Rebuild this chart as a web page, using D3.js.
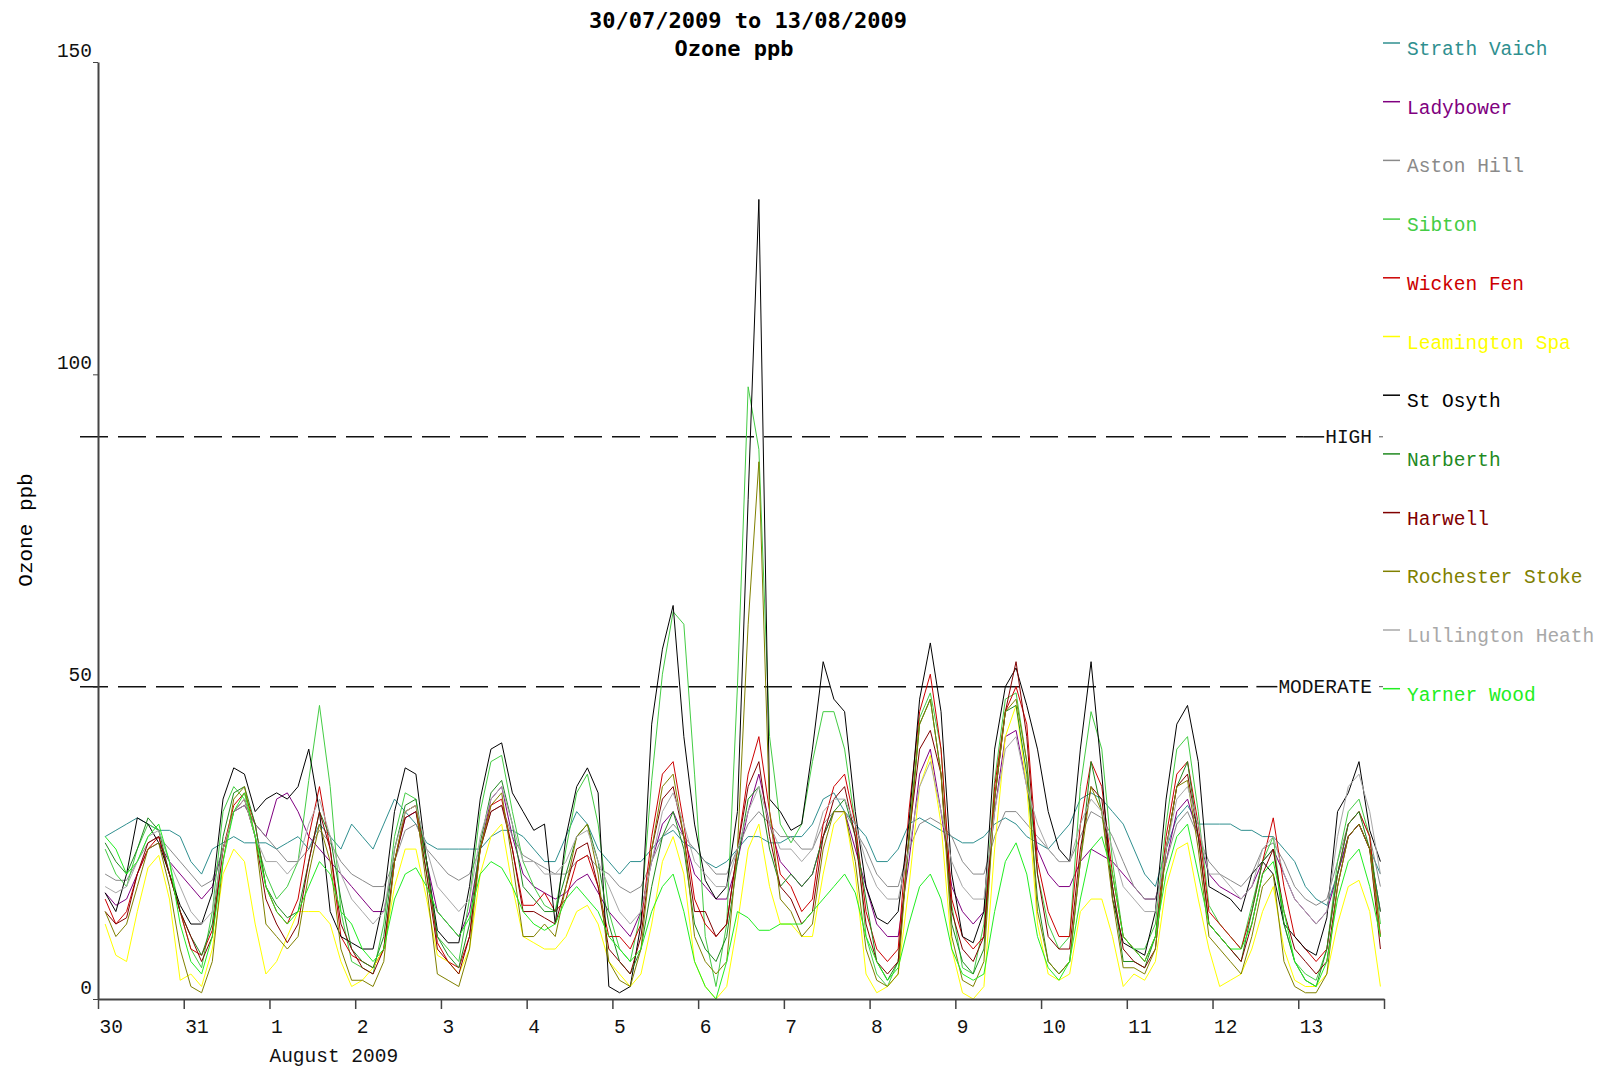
<!DOCTYPE html>
<html lang="en">
<head>
  <meta charset="UTF-8">
  <title>Ozone ppb</title>
  <script src="https://d3js.org/d3.v7.min.js"></script>
  <style>
    body { margin: 0; background: #fff; }
    svg text { font-family: "Liberation Mono", "DejaVu Sans Mono", monospace; }
    .title { font-family: "DejaVu Sans Mono", monospace !important; font-weight: bold; }
    .axis path, .axis line { stroke: #444; }
  </style>
</head>
<body>
  <div id="chart"></div>

  <script>
    // Text and ticks
    const titleLines = ["30/07/2009 to 13/08/2009", "Ozone ppb"];
    const yLabel = "Ozone ppb";
    const dayLabels = ["30", "31", "1", "2", "3", "4", "5", "6", "7", "8", "9", "10", "11", "12", "13"];
    const monthLabel = "August 2009";
    const yTicks = [0, 50, 100, 150];
    const bandNames = ["HIGH", "MODERATE"];
    const bandValues = [90, 50];

    // readings every 3 hours from 30/07 02:00 (hours since 30/07 00:00)
    const sampleHours = d3.range(2, 360, 3);

    // one row per day: 02 05 08 11 14 17 20 23 h
    const strathVaich = [
      26, 27, 28, 29, 28, 27, 27, 26,
      22, 20, 24, 25, 26, 25, 25, 25,
      24, 25, 26, 24, 28, 26, 24, 28,
      26, 24, 28, 32, 30, 28, 25, 24,
      24, 24, 24, 24, 26, 27, 27, 26,
      24, 22, 22, 26, 30, 28, 24, 22,
      20, 22, 22, 24, 26, 27, 25, 24,
      22, 21, 22, 24, 26, 26, 25, 25,
      26, 26, 28, 32, 33, 30, 28, 26,
      22, 22, 24, 28, 29, 28, 27, 26,
      25, 25, 26, 28, 29, 28, 26, 25,
      24, 26, 28, 32, 33, 32, 30, 28,
      24, 20, 18, 24, 29, 31, 28, 28,
      28, 28, 27, 27, 26, 26, 24, 22,
      18, 16, 15, 20, 26, 28, 24, 20
    ];
    const ladybower = [
      17, 15, 16, 20, 24, 25, 22, 20,
      18, 16, 18, 24, 30, 31, 28, 26,
      32, 33, 30, 26, 24, 22, 20, 18,
      16, 14, 14, 22, 29, 30, 22, 14,
      12, 10, 14, 24, 32, 34, 26, 20,
      18, 17, 16, 17, 19, 20, 17, 14,
      12, 10, 14, 22, 28, 30, 26, 20,
      18, 16, 16, 22, 30, 36, 28, 22,
      20, 18, 20, 26, 30, 30, 24, 18,
      12, 10, 10, 22, 36, 40, 30, 18,
      14, 12, 14, 30, 42, 43, 34, 24,
      20, 18, 18, 22, 24, 23, 22, 20,
      18, 16, 16, 22, 30, 32, 26, 20,
      18, 17, 16, 18, 22, 24, 20, 16,
      14, 12, 14, 20, 26, 28, 24, 14
    ];
    const astonHill = [
      20, 19, 19, 22, 25, 26, 24, 22,
      20, 18, 19, 24, 30, 31, 28, 26,
      24, 22, 22, 24, 27, 25, 22, 20,
      19, 18, 18, 22, 27, 28, 24, 22,
      20, 19, 20, 24, 30, 31, 26, 23,
      22, 21, 20, 20, 22, 23, 21, 20,
      18, 17, 18, 22, 26, 28, 26, 24,
      22, 20, 20, 24, 28, 30, 28, 26,
      26, 24, 24, 28, 30, 30, 27, 24,
      20, 18, 18, 24, 28, 29, 28, 26,
      22, 20, 20, 26, 30, 30, 28, 26,
      24, 22, 22, 26, 30, 29, 26, 22,
      18, 16, 16, 22, 28, 30, 26, 22,
      20, 19, 18, 20, 24, 25, 22, 18,
      16, 15, 16, 22, 28, 30, 26, 18
    ];
    const sibton = [
      24, 20, 18, 24, 28, 27, 22, 14,
      8, 5, 14, 30, 34, 32, 26, 20,
      16, 18, 22, 35, 47, 34, 14, 6,
      5, 4, 12, 26, 33, 32, 20, 10,
      8, 6, 16, 30, 38, 39, 30, 22,
      18, 15, 14, 24, 33, 36, 28, 14,
      8, 6, 14, 35, 52, 62, 60, 36,
      10, 2, 12, 50, 98, 88, 42, 28,
      25, 28, 38, 46, 46, 40, 28, 10,
      4, 2, 6, 26, 45, 49, 40, 15,
      5, 4, 12, 35, 48, 49, 38, 20,
      12, 8, 10, 34, 46, 40, 22, 10,
      8, 8, 12, 28, 40, 42, 30, 15,
      12, 10, 8, 15, 22, 26, 12, 6,
      4, 3, 8, 22, 30, 32, 26, 12
    ];
    const wickenFen = [
      16, 12, 14, 20, 24, 26, 20, 14,
      8, 7, 11, 24, 31, 33, 28, 18,
      14, 12, 16, 26, 34, 24, 10, 7,
      6, 5, 8, 22, 30, 31, 22, 9,
      6, 5, 10, 24, 31, 32, 24, 15,
      15, 17, 14, 16, 22, 23, 18, 10,
      10, 8, 12, 26, 36, 38, 28, 16,
      12, 10, 12, 24, 36, 42, 30, 20,
      18, 14, 16, 28, 34, 36, 28, 14,
      8, 6, 8, 30, 46, 52, 40, 16,
      10, 8, 10, 34, 46, 50, 44, 22,
      14, 10, 10, 28, 38, 34, 20, 10,
      8, 6, 10, 26, 36, 38, 28, 14,
      12, 10, 8, 14, 22, 29, 18, 10,
      8, 6, 8, 20, 28, 30, 26, 10
    ];
    const leamingtonSpa = [
      12, 7, 6, 14, 21, 23, 16, 3,
      4, 2, 8, 20, 24, 22, 12, 4,
      6, 10, 14, 14, 14, 12, 6, 2,
      3, 5, 8, 18, 24, 24, 16, 7,
      6, 4, 8, 20, 26, 28, 18, 10,
      9, 8, 8, 10, 14, 15, 12, 6,
      4, 2, 4, 12, 22, 26, 20, 6,
      2, 0, 2, 12, 24, 28, 18, 12,
      12, 10, 10, 20, 28, 30, 20, 4,
      1, 2, 4, 18, 34, 39, 28, 8,
      1, 0, 2, 24, 42, 47, 34, 12,
      4, 3, 4, 14, 16, 16, 10, 2,
      4, 3, 6, 18, 24, 25, 16, 8,
      2, 3, 4, 8, 14, 18, 8, 3,
      2, 2, 4, 12, 18, 19, 14, 2
    ];
    const stOsyth = [
      17, 14, 20, 29, 28, 25, 20, 15,
      12, 12, 17, 32, 37, 36, 30, 32,
      33, 32, 34, 40, 30, 14, 10, 9,
      8, 8, 16, 30, 37, 36, 22, 11,
      9, 9, 18, 32, 40, 41, 33, 30,
      27, 28, 12, 26, 34, 37, 33, 2,
      1, 2, 12, 44, 56, 63, 42, 28,
      19, 16, 18, 30, 80, 128, 32, 30,
      27, 28, 40, 54, 48, 46, 30, 18,
      13, 12, 14, 28, 48, 57, 46, 20,
      10, 9, 14, 40, 50, 53, 47, 40,
      30, 24, 22, 40, 54, 36, 16, 9,
      8, 7, 14, 32, 44, 47, 38, 18,
      17, 16, 14, 20, 22, 20, 12, 10,
      8, 7, 13, 30, 33, 38, 27, 22
    ];
    const narberth = [
      25, 22, 20, 24, 29, 27, 20, 14,
      10, 7, 12, 26, 33, 34, 28, 18,
      15, 13, 14, 22, 30, 26, 16, 8,
      6, 5, 10, 24, 31, 32, 22, 10,
      7, 5, 12, 25, 33, 35, 28, 18,
      16, 14, 14, 20, 26, 28, 22, 12,
      6, 4, 8, 18, 26, 30, 24, 12,
      8, 6, 10, 22, 32, 34, 24, 18,
      20, 18, 20, 26, 30, 32, 26, 16,
      6, 3, 6, 25, 44, 48, 36, 12,
      6, 4, 8, 32, 46, 47, 36, 16,
      6, 4, 6, 22, 38, 30, 18, 6,
      6, 5, 10, 24, 34, 38, 26, 12,
      10, 8, 6, 14, 22, 24, 12, 6,
      3, 2, 8, 20, 28, 30, 24, 14
    ];
    const harwell = [
      14, 12, 13, 20, 25, 26, 20, 14,
      10, 6, 10, 24, 30, 32, 26, 16,
      12, 9, 12, 22, 30, 24, 12, 8,
      5, 4, 8, 22, 29, 30, 20, 8,
      6, 4, 10, 24, 30, 31, 24, 14,
      14, 13, 12, 18, 24, 25, 18, 8,
      6, 4, 10, 24, 32, 34, 26, 14,
      14, 10, 12, 24, 34, 38, 26, 18,
      16, 12, 14, 26, 32, 34, 26, 12,
      6, 4, 6, 26, 40, 43, 36, 14,
      8, 6, 10, 32, 46, 54, 42, 20,
      10, 8, 8, 24, 34, 32, 18, 8,
      6, 5, 8, 24, 34, 36, 26, 12,
      10, 8, 6, 12, 20, 24, 14, 8,
      6, 4, 6, 18, 26, 28, 24, 8
    ];
    const rochesterStoke = [
      14, 10, 12, 18, 24, 25, 18, 8,
      2, 1, 6, 22, 32, 34, 26, 12,
      10, 8, 10, 20, 28, 22, 8, 3,
      3, 2, 6, 22, 30, 31, 18, 4,
      3, 2, 8, 24, 31, 33, 22, 10,
      10, 12, 10, 18, 26, 28, 20, 6,
      3, 2, 8, 24, 34, 36, 26, 10,
      6, 4, 6, 24, 60, 86, 30, 16,
      14, 10, 12, 24, 30, 30, 22, 8,
      3, 2, 4, 26, 44, 48, 36, 10,
      3, 2, 6, 32, 46, 48, 38, 14,
      6, 4, 6, 22, 34, 30, 16, 5,
      5, 4, 8, 24, 34, 35, 24, 10,
      8, 6, 4, 10, 18, 20, 6, 2,
      1, 1, 4, 18, 26, 28, 24, 10
    ];
    const lullingtonHeath = [
      18, 17, 18, 22, 26, 27, 22, 18,
      14, 12, 14, 24, 30, 32, 26, 22,
      22, 20, 22, 28, 32, 26, 20, 16,
      14, 12, 14, 24, 30, 31, 24, 18,
      16, 14, 16, 26, 32, 34, 28, 22,
      22, 20, 20, 22, 26, 27, 22, 18,
      14, 12, 14, 22, 30, 33, 28, 22,
      20, 18, 18, 24, 30, 34, 28, 24,
      24, 22, 24, 30, 32, 32, 28, 22,
      18, 16, 16, 24, 34, 38, 30, 22,
      18, 16, 16, 30, 40, 42, 34, 28,
      24, 22, 22, 28, 32, 30, 24, 18,
      16, 14, 14, 24, 32, 34, 28, 20,
      20, 18, 16, 18, 24, 26, 20, 16,
      14, 12, 14, 26, 34, 36, 30, 20
    ];
    const yarnerWood = [
      26, 24, 20, 22, 26, 28, 22, 12,
      6, 4, 10, 22, 30, 33, 26, 18,
      14, 12, 14, 18, 22, 20, 14, 12,
      8, 6, 8, 16, 20, 21, 18, 14,
      12, 10, 13, 20, 22, 21, 18, 14,
      12, 11, 12, 16, 18, 16, 14, 10,
      8, 6, 8, 14, 18, 20, 14, 6,
      2, 0, 6, 14, 13, 11, 11, 12,
      12, 12, 14, 16, 18, 20, 17, 10,
      6, 3, 5, 12, 18, 20, 16, 8,
      4, 3, 4, 14, 22, 25, 20, 10,
      5, 3, 6, 16, 24, 26, 20, 10,
      8, 6, 10, 20, 26, 28, 20, 12,
      10, 8, 8, 12, 20, 22, 14, 6,
      3, 2, 6, 16, 22, 24, 18, 10
    ];

    const stationNames = ["Strath Vaich", "Ladybower", "Aston Hill", "Sibton", "Wicken Fen",
      "Leamington Spa", "St Osyth", "Narberth", "Harwell", "Rochester Stoke",
      "Lullington Heath", "Yarner Wood"];
    const stationValues = [strathVaich, ladybower, astonHill, sibton, wickenFen,
      leamingtonSpa, stOsyth, narberth, harwell, rochesterStoke,
      lullingtonHeath, yarnerWood];
    const stationColors = ["#2f8f8f", "#800080", "#8a8a8a", "#44cc44", "#cc0000",
      "#ffff00", "#000000", "#1f8a1f", "#800000", "#808000",
      "#a8a8a8", "#22ee22"];

    const width = 1605;
    const height = 1067;

    const svg = d3.select("#chart").append("svg")
      .attr("width", width)
      .attr("height", height)
      .style("background", "#fff");

    const x = d3.scaleLinear().domain([0, 360]).range([98, 1384]);
    const y = d3.scaleLinear().domain([0, 150]).range([999, 62]);

    // titles
    svg.append("text")
      .attr("class", "title")
      .attr("x", 748).attr("y", 28)
      .attr("text-anchor", "middle")
      .style("font-size", "22px")
      .text(titleLines[0]);
    svg.append("text")
      .attr("class", "title")
      .attr("x", 734).attr("y", 56)
      .attr("text-anchor", "middle")
      .style("font-size", "22px")
      .text(titleLines[1]);

    svg.append("text")
      .attr("transform", "translate(32,530) rotate(-90)")
      .attr("text-anchor", "middle")
      .style("font-size", "21px")
      .text(yLabel);

    // band lines (HIGH / MODERATE)
    bandValues.forEach((v, i) => {
      const g = svg.append("g");
      const label = g.append("text")
        .attr("x", 1372)
        .attr("y", y(v) + 6)
        .attr("text-anchor", "end")
        .style("font-size", "19.5px")
        .attr("fill", "#111")
        .text(bandNames[i]);
      const start = 1372 - label.node().getComputedTextLength();
      g.append("line")
        .attr("x1", 80).attr("x2", start - 22)
        .attr("y1", y(v)).attr("y2", y(v))
        .attr("stroke", "#111")
        .attr("stroke-width", 1.5)
        .attr("stroke-dasharray", "28,10");
      g.append("line")
        .attr("x1", start - 22).attr("x2", start - 1)
        .attr("y1", y(v)).attr("y2", y(v))
        .attr("stroke", "#111")
        .attr("stroke-width", 1.5);
      g.append("line")
        .attr("x1", 1379).attr("x2", 1383)
        .attr("y1", y(v)).attr("y2", y(v))
        .attr("stroke", "#555");
    });

    // series
    const line = d3.line()
      .x((d, i) => x(sampleHours[i]))
      .y(d => y(d));

    stationValues.forEach((vals, i) => {
      svg.append("path")
        .datum(vals)
        .attr("fill", "none")
        .attr("stroke", stationColors[i])
        .attr("stroke-width", 1)
        .attr("d", line);
    });

    // axes
    const xAxis = svg.append("g")
      .attr("class", "axis")
      .attr("transform", `translate(0,${y(0)})`)
      .call(d3.axisBottom(x)
        .tickValues(d3.range(0, 361, 24))
        .tickSize(10)
        .tickSizeOuter(0)
        .tickFormat((d, i) => dayLabels[i] || ""));
    xAxis.select(".domain").attr("stroke-width", 2);
    xAxis.selectAll(".tick line").attr("stroke-width", 1.5);
    xAxis.selectAll("text")
      .attr("text-anchor", "start")
      .attr("x", 1)
      .attr("y", 34)
      .attr("dy", 0)
      .attr("fill", "#111")
      .style("font-size", "19.5px")
      .style("font-family", "Liberation Mono, monospace");

    svg.append("text")
      .attr("x", x(48))
      .attr("y", 1062)
      .style("font-size", "19.5px")
      .attr("fill", "#111")
      .text(monthLabel);

    const yAxis = svg.append("g")
      .attr("class", "axis")
      .attr("transform", `translate(${x(0)},0)`)
      .call(d3.axisLeft(y)
        .tickValues(yTicks)
        .tickSize(5)
        .tickSizeOuter(0));
    yAxis.select(".domain").attr("stroke-width", 2);
    yAxis.selectAll("text")
      .attr("x", -6)
      .attr("dy", -6)
      .attr("fill", "#111")
      .style("font-size", "19.5px")
      .style("font-family", "Liberation Mono, monospace");

    // legend
    const legend = svg.append("g")
      .selectAll("g")
      .data(stationNames)
      .enter().append("g")
      .attr("transform", (d, i) => `translate(1383,${43 + i * 58.7})`);

    legend.append("line")
      .attr("x1", 0).attr("x2", 17)
      .attr("y1", 0).attr("y2", 0)
      .attr("stroke", (d, i) => stationColors[i])
      .attr("stroke-width", 1.5);

    legend.append("text")
      .attr("x", 24)
      .attr("y", 12)
      .attr("fill", (d, i) => stationColors[i])
      .style("font-size", "19.5px")
      .text(d => d);
  </script>
</body>
</html>
